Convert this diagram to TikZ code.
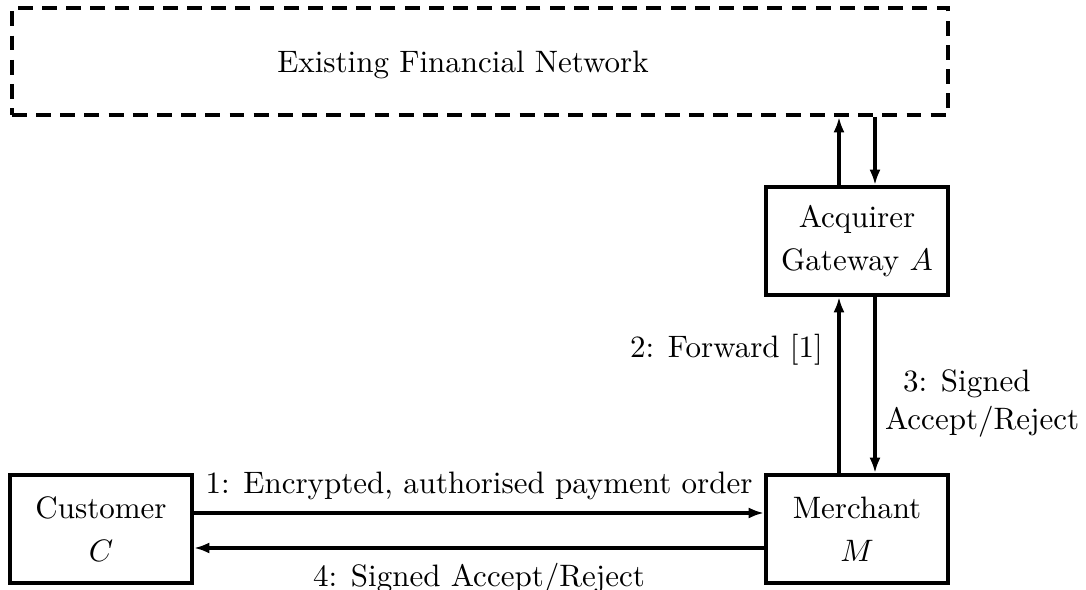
\documentclass[tikz,border=0pt]{standalone}
\usetikzlibrary{arrows.meta}
\begin{document}
\begin{tikzpicture}[x=0.3226pt,y=-0.3226pt,
  box/.style={draw,line width=1.3pt,minimum width=58.7pt,minimum height=34.8pt,
    align=center,inner sep=0pt},
  netbox/.style={draw,line width=1.3pt,dash pattern=on 4.8pt off 3pt,
    minimum width=302pt,minimum height=34.5pt,inner sep=0pt},
  arr/.style={line width=1.3pt,-{Latex[length=5pt,width=3.6pt]}},
  lbl/.style={inner sep=2pt}]
  \useasboundingbox (0,0) rectangle (1086,590);

  % boxes
  \node[netbox] (net) at (480,61.5) {};
  \node[anchor=base] (nettext) at (463,73) {Existing Financial Network};
  \node[box] (acq) at (857,241) {Acquirer\\[2pt] Gateway $A$};
  \node[box] (mer) at (857,529) {Merchant\\[2pt] $M$};
  \node[box] (cus) at (101,529) {Customer\\[2pt] $C$};

  % connector lines
  \coordinate (upx) at (839,0);
  \coordinate (dnx) at (875,0);
  \coordinate (rty) at (0,513);
  \coordinate (lfy) at (0,548);

  \draw[arr] (acq.north -| upx) -- (net.south -| upx);
  \draw[arr] (net.south -| dnx) -- (acq.north -| dnx);

  \draw[arr] (mer.north -| upx) -- node[lbl,pos=0.7,left,inner xsep=4.6pt] {2: Forward [1]} (acq.south -| upx);
  \draw[arr] (acq.south -| dnx) -- node[lbl,pos=0.605,right,align=left,inner xsep=2.6pt]
    {\hspace*{5.8pt}3: Signed\\Accept/Reject} (mer.north -| dnx);

  \draw[arr] (cus.east |- rty) -- node[lbl,above,inner ysep=3.6pt] {1: Encrypted, authorised payment order} (mer.west |- rty);
  \draw[arr] (mer.west |- lfy) -- node[lbl,below,inner ysep=4.3pt] {4: Signed Accept/Reject} (cus.east |- lfy);
\end{tikzpicture}
\end{document}
